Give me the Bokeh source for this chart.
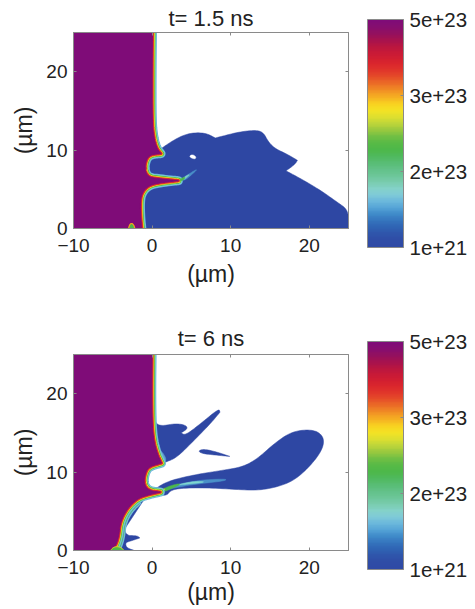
from bokeh.embed import file_html
from bokeh.resources import INLINE
from bokeh.plotting import figure
from bokeh.layouts import column
from bokeh.models import LinearAxis, FixedTicker, Range1d, ColorBar, LinearColorMapper

titles = ["t= 1.5 ns", "t= 6 ns"]
x_ticks = [-10, 0, 10, 20]
y_ticks = [0, 10, 20]
cb_ticks = [0, 1, 2, 3]
cb_labels = ["1e+21", "2e+23", "3e+23", "5e+23"]
axis_unit = "(\u00b5m)"

PURPLE = "#7f0c78"
BLUE = "#2e47a3"

# panel 1
a_core_x = [0.05, 0.0, 0.0, 0.2, 0.6, 1.15, 1.15, 0.0, -0.6, -0.9, -0.85, -0.45, 0.4, 3.35, 3.35, 0.4, -0.65, -1.3, -1.5, -1.45, -1.3]
a_core_y = [25, 20.2, 13.8, 11.7, 10.2, 9.55, 9.55, 9.45, 9.05, 8.1, 7.25, 6.6, 6.4, 6.1, 6.1, 5.75, 5.3, 4.45, 3.4, 1.5, 0]
a_blue_x = [-1.5, -1.5, 0.95, 1.15, 2.7, 4.2, 5.7, 7.0, 8.05, 8.05, 8.65, 11.2, 13.35, 14.2, 14.8, 15.65, 17.15, 18.5, 18.5, 18.2, 17.05, 17.05, 18.85, 21.4, 23.5, 25, 25]
a_blue_y = [0, 9.55, 10.0, 10.2, 11.25, 12.0, 12.25, 12.1, 11.55, 11.55, 11.7, 12.35, 12.55, 12.2, 11.05, 10.2, 9.5, 8.7, 8.7, 8.2, 7.35, 7.35, 6.4, 4.9, 3.4, 2.35, 0]
a_hole_x = [4.75, 5.15, 5.6, 5.5, 4.95]
a_hole_y = [9.25, 9.45, 9.15, 8.85, 9.0]
a_midblue_x = [3.6, 6.1, 4.65, 4.0]
a_midblue_y = [6.25, 7.85, 6.5, 6.1]
a_cyan_x = [4.1, 4.85, 4.4, 3.9]
a_cyan_y = [6.6, 6.95, 6.5, 6.15]
a_green_x = [3.5, 4.2, 4.1, 3.6]
a_green_y = [6.25, 6.65, 6.25, 6.05]
a_bump_x = [-3.0, -2.85, -2.6, -2.3, -2.2]
a_bump_y = [0, 0.5, 0.7, 0.4, 0]

# panel 2
b_core_x = [0.0, -0.05, 0.0, 0.2, 0.65, 1.2, 1.2, -0.2, -0.75, -1.05, -0.85, -0.2, 1.05, 1.05, -0.65, -1.9, -3.2, -4.05, -4.25, -4.7, -5.3]
b_core_y = [25, 20.45, 16.2, 14.05, 12.35, 11.15, 11.15, 10.75, 10.2, 8.95, 8.1, 7.6, 7.45, 7.45, 7.05, 6.6, 5.3, 3.6, 1.7, 0.45, 0]
b_upper_x = [0, 0.3, 1.05, 2.98, 4.25, 4.55, 3.7, 3.7, 4.25, 6.2, 8.5, 8.65, 8.65, 7.45, 5.35, 3.2, 1.85, 1.2, -0.2]
b_upper_y = [19, 16.4, 15.85, 16.2, 16, 15.55, 15, 15, 14.7, 16.2, 18.1, 17.65, 17.65, 16.2, 14.05, 11.9, 11.3, 11.15, 14]
b_tint_x = [0.6, 1.3, 1.9, 1.2]
b_tint_y = [13.0, 12.6, 11.5, 11.2]
b_float_x = [5.85, 6.6, 8.3, 9.9, 9.9, 8.3, 6.4]
b_float_y = [12.7, 12.95, 12.55, 12.0, 12.0, 12.15, 12.35]
b_plume_x = [0.65, 2.35, 5.35, 8.75, 11.5, 13.4, 15.55, 17.65, 19.8, 21.3, 21.95, 21.5, 20.0, 18.1, 15.95, 13.4, 10.45, 7.05, 3.6, 2.35, 1.9, 1.05, -0.2]
b_plume_y = [8.1, 8.95, 9.65, 10.2, 10.65, 11.7, 13.65, 15.1, 15.45, 15.1, 14.05, 12.55, 10.65, 8.95, 8.1, 7.65, 7.8, 8.0, 7.95, 7.65, 7.05, 7.05, 7.15]
b_lower_x = [-0.65, -2.1, -3.0, -3.55, -3.4, -1.9, -1.55, -1.55, -2.75, -3.4, -3.25, -2.25, -2.25, -5.3]
b_lower_y = [7.05, 6.45, 5.3, 3.6, 1.9, 1.9, 1.6, 1.6, 1.2, 1.0, 0.35, 0, 0, 0]
b_midblue_x = [1.05, 5.35, 9.6, 9.15, 5.35, 2.35]
b_midblue_y = [7.6, 8.95, 9.15, 8.85, 8.45, 7.9]
b_cyan_x = [2.75, 5.35, 7.05, 4.45]
b_cyan_y = [8.3, 8.85, 8.75, 8.45]
b_green_x = [0.45, 2.35, 3.85, 2.55, 1.05]
b_green_y = [7.4, 8.3, 8.6, 7.9, 7.35]
b_yellow_x = [0.15, 1.5, 1.7, 0.85]
b_yellow_y = [7.4, 7.9, 7.8, 7.35]
b_band_x = [-1.9, -3.2, -4.05, -4.25, -4.7]
b_band_y = [6.6, 5.3, 3.6, 1.7, 0.45]
b_blob_x = [-5.3, -4.9, -4.25, -3.7, -3.6]
b_blob_y = [0, 0.45, 0.5, 0.2, 0]

core_corner_x = [-10, -10]
core_corner_y = [0, 25]

cb_colors = [
    "#2f4aa5", "#2f4ca6", "#2f55ab", "#2f63b3", "#3473bd", "#3f8ac9", "#54a3d6", "#6bb8dc",
    "#7fcad8", "#84d2c8", "#79ccae", "#6cc698", "#62c188", "#58bd74", "#4fb95c", "#4db84a",
    "#57ba46", "#70bf44", "#97c83f", "#bdd53a", "#dcdf30", "#f3e325", "#f8d321", "#f6b322",
    "#f29524", "#ec7326", "#e75428", "#e23a2a", "#dc2a2c", "#d31f30", "#c81a37", "#b81640",
    "#a6124f", "#93105f", "#850e70", "#7f0c78",
]

RAMP = [(9, "#69b4dc"), (7.5, "#7fcfc6"), (6, "#4db84a"), (4.6, "#f2e21e"), (3.2, "#e0302a")]
GRAY = "#8a8a8a"
TXT = "#222222"
FONT = "Liberation Sans"


def smooth(xs, ys, n=3, closed=False):
    """Corner cutting, so that the read outlines look like contour lines."""
    pts = list(zip(xs, ys))
    for _ in range(n):
        src = pts + [pts[0]] if closed else pts
        out = [] if closed else [pts[0]]
        for (x0, y0), (x1, y1) in zip(src[:-1], src[1:]):
            out.append((0.75 * x0 + 0.25 * x1, 0.75 * y0 + 0.25 * y1))
            out.append((0.25 * x0 + 0.75 * x1, 0.25 * y0 + 0.75 * y1))
        if not closed:
            out.append(pts[-1])
        pts = out
    return [p[0] for p in pts], [p[1] for p in pts]


def blend(colors, k):
    rgb = [tuple(int(c[i:i + 2], 16) for i in (1, 3, 5)) for c in colors]
    res = []
    for a, b in zip(rgb[:-1], rgb[1:]):
        for j in range(k):
            t = j / k
            res.append("#%02x%02x%02x" % tuple(round(u + (v - u) * t) for u, v in zip(a, b)))
    res.append(colors[-1])
    return res


def panel(title, top, bottom, title_standoff, label_standoff, cb_offset):
    p = figure(frame_width=275, frame_height=196, x_range=Range1d(-10, 25), y_range=Range1d(0, 25),
               output_backend="svg", toolbar_location=None, min_border_left=73, min_border_right=119,
               min_border_top=top, min_border_bottom=bottom, x_axis_label=axis_unit, y_axis_label=axis_unit,
               title=title, background_fill_color="white", border_fill_color="white")
    p.title.align = "center"
    p.title.text_font = FONT
    p.title.text_font_size = "22px"
    p.title.text_font_style = "normal"
    p.title.text_color = TXT
    p.title.standoff = title_standoff
    p.grid.visible = False
    p.outline_line_color = GRAY
    for ax, ticks in ((p.xaxis[0], x_ticks), (p.yaxis[0], y_ticks)):
        ax.ticker = FixedTicker(ticks=ticks)
        ax.major_tick_in = 3
        ax.major_tick_out = 0
        ax.minor_tick_line_color = None
        ax.axis_line_color = GRAY
        ax.major_tick_line_color = GRAY
        ax.major_label_text_font = FONT
        ax.major_label_text_font_size = "19px"
        ax.major_label_text_color = TXT
        ax.axis_label_text_font = FONT
        ax.axis_label_text_font_size = "23px"
        ax.axis_label_text_font_style = "normal"
        ax.axis_label_text_color = TXT
        ax.major_label_standoff = 10
        ax.axis_label_standoff = label_standoff
    p.yaxis[0].major_label_standoff = 6
    p.yaxis[0].axis_label_standoff = 6
    for side, ticks in (("above", x_ticks), ("right", y_ticks)):
        ax = LinearAxis(ticker=FixedTicker(ticks=ticks), major_tick_in=3, major_tick_out=0,
                        minor_tick_line_color=None, axis_line_color=GRAY, major_tick_line_color=GRAY,
                        major_label_text_color=None, major_label_text_font_size="0px", major_label_standoff=0)
        p.add_layout(ax, side)
    mapper = LinearColorMapper(palette=blend(cb_colors, 4), low=cb_ticks[0], high=cb_ticks[-1])
    bar = ColorBar(color_mapper=mapper, ticker=FixedTicker(ticks=cb_ticks),
                   major_label_overrides=dict(zip(cb_ticks, cb_labels)),
                   width=36, height=228, padding=0, margin=0, location=(294, cb_offset),
                   background_fill_color=None, border_line_color=None, bar_line_color=GRAY,
                   major_tick_line_color=GRAY, major_tick_in=3, minor_tick_line_color=None,
                   major_label_text_font=FONT, major_label_text_font_size="20.5px",
                   major_label_text_color=TXT, label_standoff=6)
    p.add_layout(bar, "center")
    return p


def core(p, xs, ys):
    sx, sy = smooth(xs, ys)
    for w, c in RAMP:
        p.line(sx, sy, line_color=c, line_width=w, line_join="round")
    p.patch(sx + core_corner_x, sy + core_corner_y, fill_color=PURPLE, line_color=PURPLE, line_width=1)


def blue(p, xs, ys, color=BLUE, closed=True):
    sx, sy = smooth(xs, ys, closed=closed)
    p.patch(sx, sy, fill_color=color, line_color=color, line_width=0.5)


p1 = panel(titles[0], 32, 92, 4, 6, -19)
blue(p1, a_blue_x, a_blue_y, closed=False)
blue(p1, a_hole_x, a_hole_y, "#ffffff")
core(p1, a_core_x, a_core_y)
blue(p1, a_midblue_x, a_midblue_y, "#4a90c8")
blue(p1, a_cyan_x, a_cyan_y, "#7fcfc6")
blue(p1, a_green_x, a_green_y, "#4db84a")
p1.patch(*smooth(a_bump_x, a_bump_y), fill_color="#4db84a", line_color="#f2a01e", line_width=1.2)

p2 = panel(titles[1], 34, 55, 7, 2, -19)
blue(p2, b_upper_x, b_upper_y)
blue(p2, b_tint_x, b_tint_y, "#5f9fd0")
blue(p2, b_float_x, b_float_y)
blue(p2, b_plume_x, b_plume_y)
blue(p2, b_lower_x, b_lower_y, closed=False)
blue(p2, b_midblue_x, b_midblue_y, "#4a90c8")
blue(p2, b_cyan_x, b_cyan_y, "#7fd6d0")
blue(p2, b_green_x, b_green_y, "#4db84a")
blue(p2, b_yellow_x, b_yellow_y, "#f2e21e")
sbx, sby = smooth(b_band_x, b_band_y)
p2.line(sbx, sby, line_color="#6fb8d8", line_width=13, line_join="round")
p2.line(sbx, sby, line_color="#4db84a", line_width=10, line_join="round")
core(p2, b_core_x, b_core_y)
p2.patch(*smooth(b_blob_x, b_blob_y), fill_color="#4db84a", line_color="#e8d820", line_width=1)

page = column(p1, p2)
open("out.html", "w").write(file_html(page, INLINE))
